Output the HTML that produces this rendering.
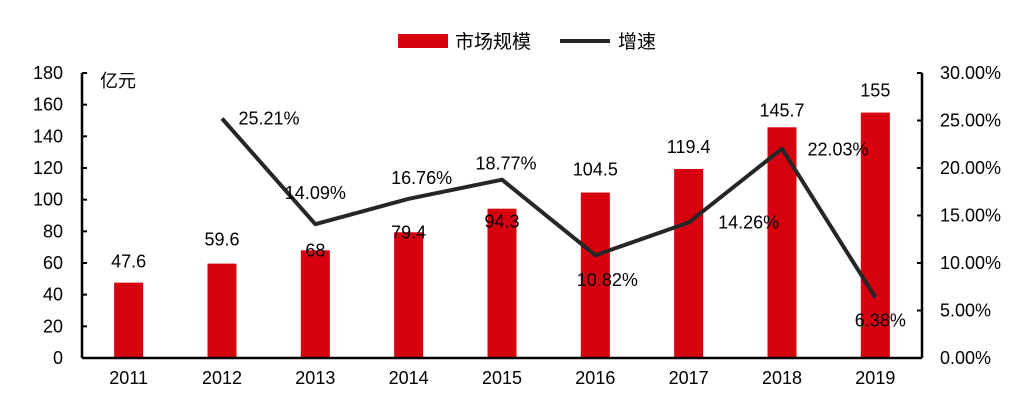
<!DOCTYPE html>
<html><head><meta charset="utf-8">
<style>
body{margin:0;background:#fff;}
svg{display:block;font-family:"Liberation Sans","Noto Sans CJK SC",sans-serif;}
</style></head>
<body>
<svg id="chart" width="1025" height="403">
  <g id="legend">
    <rect x="398" y="34" width="50" height="14" fill="#d7000f"></rect>
    <text x="455" y="48" font-size="19" fill="#000">市场规模</text>
    <line x1="560" y1="41" x2="610" y2="41" stroke="#262626" stroke-width="4"></line>
    <text x="618" y="48" font-size="19" fill="#000">增速</text>
  </g>
  <text x="100" y="87" font-size="18" fill="#000">亿元</text>
  <g id="bars"></g>
  <g id="axes"></g>
  <g id="line"></g>
  <g id="labels"></g>
</svg>
<script>
const categories = ["2011","2012","2013","2014","2015","2016","2017","2018","2019"];
const marketSize = [47.6,59.6,68,79.4,94.3,104.5,119.4,145.7,155];
const growth = [null,25.21,14.09,16.76,18.77,10.82,14.26,22.03,6.38];
const leftTicks = [0,20,40,60,80,100,120,140,160,180];
const rightTicks = [0,5,10,15,20,25,30];

const NS="http://www.w3.org/2000/svg";
const X0=82,X1=922,Y0=358,Y1=73;
const bw=(X1-X0)/categories.length;
function xc(i){return X0+bw*(i+0.5);}
function yl(v){return Y0-(v/180)*(Y0-Y1);}
function yr(v){return Y0-(v/30)*(Y0-Y1);}
function mk(tag,attrs,parent,text){const e=document.createElementNS(NS,tag);for(const k in attrs)e.setAttribute(k,attrs[k]);if(text!==undefined)e.textContent=text;parent.appendChild(e);return e;}
const bars=document.getElementById('bars'),axes=document.getElementById('axes'),line=document.getElementById('line'),labels=document.getElementById('labels');
const FS=18;
const barOff=[-21,-24,0,0,13,-23,-22,-17,-22];

marketSize.forEach((v,i)=>{
  const r=mk('rect',{x:xc(i)-14.5,y:yl(v),width:29,height:Y0-yl(v),fill:'#d7000f'},bars);
  
  
  const t=mk('text',{x:xc(i),y:yl(v)+barOff[i]+6,'font-size':FS,'text-anchor':'middle',fill:'#000'},labels,String(v));
  
  
});

let a=mk('line',{x1:X0,y1:Y1,x2:X0,y2:Y0,stroke:'#000','stroke-width':2.5},axes);


a=mk('line',{x1:X1,y1:Y1,x2:X1,y2:Y0,stroke:'#000','stroke-width':2.5},axes);


a=mk('line',{x1:X0,y1:Y0,x2:X1,y2:Y0,stroke:'#000','stroke-width':2.5},axes);



leftTicks.forEach(v=>{
  const tk=mk('line',{x1:X0,y1:yl(v),x2:X0+5,y2:yl(v),stroke:'#000','stroke-width':2},axes);
  
  
  const t=mk('text',{x:63,y:yl(v)+6,'font-size':FS,'text-anchor':'end',fill:'#000'},axes,String(v));
  
  
});
rightTicks.forEach(v=>{
  const tk=mk('line',{x1:X1-5,y1:yr(v),x2:X1,y2:yr(v),stroke:'#000','stroke-width':2},axes);
  
  
  const t=mk('text',{x:940,y:yr(v)+6,'font-size':FS,fill:'#000'},axes,v.toFixed(2)+'%');
  
  
});
categories.forEach((c,i)=>{
  const t=mk('text',{x:xc(i),y:384,'font-size':FS,'text-anchor':'middle',fill:'#000'},axes,c);
  
  
});

let pts=[];
growth.forEach((g,i)=>{if(g!==null)pts.push(xc(i)+','+yr(g));});
const pl=mk('polyline',{points:pts.join(' '),fill:'none',stroke:'#262626','stroke-width':4,'stroke-linejoin':'round'},line);



const off=[null,[47,0],[0,-31],[13,-21],[4,-16],[12,25],[60,0],[56,1],[5,23]];
growth.forEach((g,i)=>{
  if(g===null)return;
  const t=mk('text',{x:xc(i)+off[i][0],y:yr(g)+off[i][1]+6,'font-size':FS,'text-anchor':'middle',fill:'#000'},labels,g.toFixed(2)+'%');
  
  
});
</script>
</body></html>
